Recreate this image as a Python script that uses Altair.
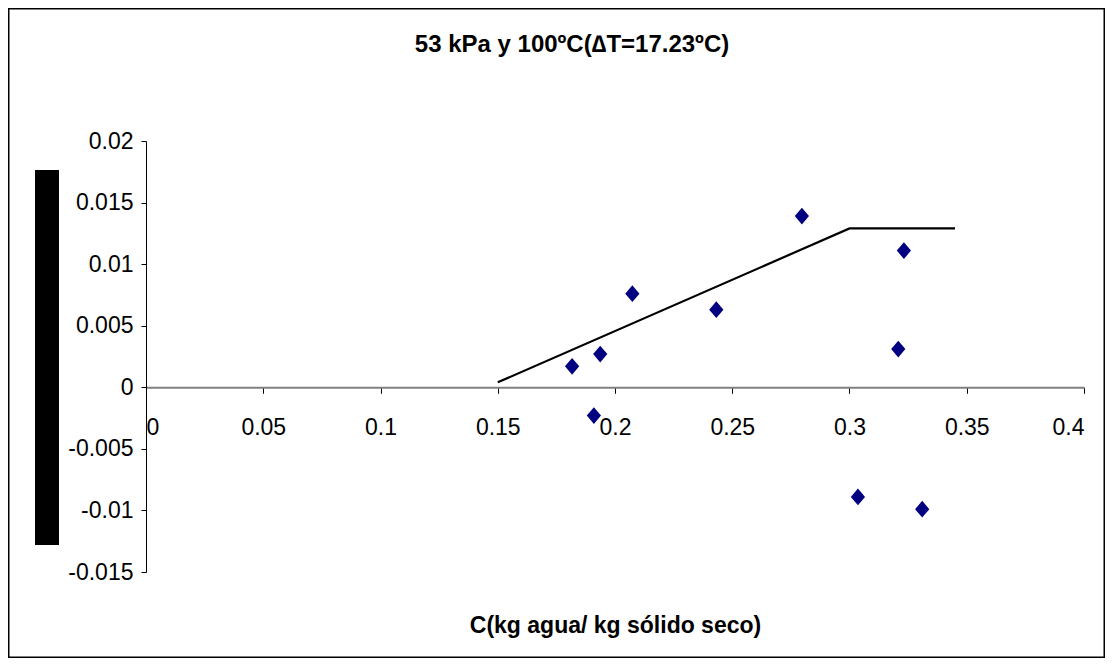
import altair as alt
import pandas as pd

# Scatter data
pts_x = [0.1817, 0.1937, 0.1910, 0.2074, 0.2432, 0.2797, 0.3232, 0.3208, 0.3036, 0.3310]
pts_y = [0.0017, 0.0027, -0.0023, 0.0076, 0.0063, 0.0139, 0.0111, 0.0031, -0.0089, -0.0099]

# Fitted broken line
line_x = [0.150, 0.300, 0.345]
line_y = [0.0004, 0.0129, 0.0129]

x_ticks = [0, 0.05, 0.1, 0.15, 0.2, 0.25, 0.3, 0.35, 0.4]
y_ticks = [-0.015, -0.01, -0.005, 0, 0.005, 0.01, 0.015, 0.02]

title_text = "53 kPa y 100ºC(∆T=17.23ºC)"
x_title = "C(kg agua/ kg sólido seco)"

W, H = 938, 431
PAD = {"left": 138, "top": 133, "right": 21, "bottom": 86}
FONT = "Liberation Sans"

pts = pd.DataFrame({"x": pts_x, "y": pts_y})
line = pd.DataFrame({"x": line_x, "y": line_y, "o": list(range(len(line_x)))})

xs = alt.Scale(domain=[0, 0.4], nice=False, zero=False)
ys = alt.Scale(domain=[-0.015, 0.02], nice=False, zero=False)

x_axis = alt.Axis(
    values=x_ticks, labelExpr="'' + datum.value", grid=False,
    offset=-(H - H * 0.02 / 0.035), domainColor="#808080", domainWidth=2,
    tickColor="black", tickSize=6, labelPadding=23,
    labelFont=FONT, labelFontSize=23, labelColor="black",
    title=x_title, titleFont=FONT, titleFontSize=23, titleFontWeight="bold",
    titleColor="black", titleY=245, titleBaseline="alphabetic",
)
y_axis = alt.Axis(
    values=y_ticks, labelExpr="'' + datum.value", grid=False,
    domainColor="black", tickColor="black", tickSize=5, labelPadding=8,
    labelFont=FONT, labelFontSize=23, labelColor="black", title=None,
)

base_line = alt.Chart(line).mark_line(color="black", strokeWidth=2.2).encode(
    x=alt.X("x:Q", scale=xs, axis=x_axis),
    y=alt.Y("y:Q", scale=ys, axis=y_axis),
    order="o:O",
)

diamond = "M0,-1L0.85,0L0,1L-0.85,0Z"
points = alt.Chart(pts).mark_point(
    shape=diamond, filled=True, color="#000080", opacity=1, size=280
).encode(x=alt.X("x:Q", scale=xs), y=alt.Y("y:Q", scale=ys))

# black bar where the y-axis title would be (as in the original)
bar = alt.Chart(pd.DataFrame({"a": [0]})).mark_rect(color="black").encode(
    x=alt.value(-111), x2=alt.value(-87), y=alt.value(29), y2=alt.value(404)
)
# outer frame of the chart
frame = alt.Chart(pd.DataFrame({"a": [0]})).mark_rect(
    fill=None, stroke="black", strokeWidth=1.5
).encode(
    x=alt.value(-PAD["left"] + 0.75), x2=alt.value(W + PAD["right"] - 0.75),
    y=alt.value(-PAD["top"] + 0.75), y2=alt.value(H + PAD["bottom"] - 0.75),
)
# chart title
title = alt.Chart(pd.DataFrame({"t": [title_text]})).mark_text(
    font=FONT, fontSize=24, fontWeight="bold", color="black",
    align="center", baseline="alphabetic",
).encode(text="t:N", x=alt.value(426), y=alt.value(-89))

chart = alt.layer(frame, bar, base_line, points, title).properties(
    width=W, height=H,
    autosize=alt.AutoSizeParams(type="none"),
    padding=PAD,
    background="white",
).configure_view(strokeWidth=0)

chart.save("out.html", embed_options={"renderer": "svg", "actions": False})
